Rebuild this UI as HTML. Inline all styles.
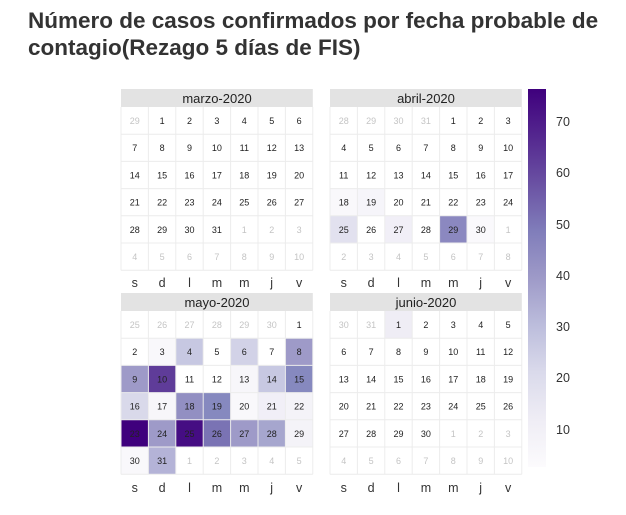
<!DOCTYPE html>
<html><head><meta charset="utf-8"><style>
body{margin:0;background:#fff;width:626px;height:515px;overflow:hidden}
svg{display:block}
.t{font-family:"Liberation Sans",sans-serif}
.c text{font-size:9px;text-anchor:middle;fill:#222}
.c text.o{fill:#c4c4c4}
.h{font-size:13px;text-anchor:middle;fill:#222}
.d text{font-size:12.5px;text-anchor:middle;fill:#333}
.g line{stroke:#ececec;stroke-width:1}
</style></head><body>
<svg width="626" height="515" class="t" xmlns="http://www.w3.org/2000/svg">
<defs>
<linearGradient id="cb" x1="0" y1="1" x2="0" y2="0">
<stop offset="0" stop-color="#fcfbfd"/><stop offset="0.125" stop-color="#efedf5"/><stop offset="0.25" stop-color="#dadaeb"/><stop offset="0.375" stop-color="#bcbddc"/><stop offset="0.5" stop-color="#9e9ac8"/><stop offset="0.625" stop-color="#807dba"/><stop offset="0.75" stop-color="#6a51a3"/><stop offset="0.875" stop-color="#54278f"/><stop offset="1" stop-color="#3f007d"/>
</linearGradient>
<g id="grid" class="g">
<line x1="0" y1="0" x2="0" y2="163.2"/><line x1="27.4" y1="0" x2="27.4" y2="163.2"/><line x1="54.8" y1="0" x2="54.8" y2="163.2"/><line x1="82.2" y1="0" x2="82.2" y2="163.2"/><line x1="109.6" y1="0" x2="109.6" y2="163.2"/><line x1="137" y1="0" x2="137" y2="163.2"/><line x1="164.4" y1="0" x2="164.4" y2="163.2"/><line x1="191.8" y1="0" x2="191.8" y2="163.2"/>
<line x1="0" y1="27.2" x2="191.8" y2="27.2"/><line x1="0" y1="54.4" x2="191.8" y2="54.4"/><line x1="0" y1="81.6" x2="191.8" y2="81.6"/><line x1="0" y1="108.8" x2="191.8" y2="108.8"/><line x1="0" y1="136" x2="191.8" y2="136"/><line x1="0" y1="163.2" x2="191.8" y2="163.2"/>
</g>
<g id="days" class="d"><text x="13.7" y="0">s</text><text x="41.1" y="0">d</text><text x="68.5" y="0">l</text><text x="95.9" y="0">m</text><text x="123.3" y="0">m</text><text x="150.7" y="0">j</text><text x="178.1" y="0">v</text></g>
</defs>

<text x="28" y="28" style="font-size:22.5px;font-weight:bold;fill:#333">Número de casos confirmados por fecha probable de</text>
<text x="28" y="55" style="font-size:22.5px;font-weight:bold;fill:#333">contagio(Rezago 5 días de FIS)</text>

<!-- marzo -->
<g transform="translate(121,89)">
<rect x="0" y="0" width="191.8" height="18" fill="#e3e3e3"/>
<text class="h" x="96" y="14">marzo-2020</text>
<g transform="translate(0,18)" class="c">
<use href="#grid"/>
<text class="o" x="13.7" y="17">29</text><text x="41.1" y="17">1</text><text x="68.5" y="17">2</text><text x="95.9" y="17">3</text><text x="123.3" y="17">4</text><text x="150.7" y="17">5</text><text x="178.1" y="17">6</text>
<text x="13.7" y="44.2">7</text><text x="41.1" y="44.2">8</text><text x="68.5" y="44.2">9</text><text x="95.9" y="44.2">10</text><text x="123.3" y="44.2">11</text><text x="150.7" y="44.2">12</text><text x="178.1" y="44.2">13</text>
<text x="13.7" y="71.4">14</text><text x="41.1" y="71.4">15</text><text x="68.5" y="71.4">16</text><text x="95.9" y="71.4">17</text><text x="123.3" y="71.4">18</text><text x="150.7" y="71.4">19</text><text x="178.1" y="71.4">20</text>
<text x="13.7" y="98.6">21</text><text x="41.1" y="98.6">22</text><text x="68.5" y="98.6">23</text><text x="95.9" y="98.6">24</text><text x="123.3" y="98.6">25</text><text x="150.7" y="98.6">26</text><text x="178.1" y="98.6">27</text>
<text x="13.7" y="125.8">28</text><text x="41.1" y="125.8">29</text><text x="68.5" y="125.8">30</text><text x="95.9" y="125.8">31</text><text class="o" x="123.3" y="125.8">1</text><text class="o" x="150.7" y="125.8">2</text><text class="o" x="178.1" y="125.8">3</text>
<text class="o" x="13.7" y="153">4</text><text class="o" x="41.1" y="153">5</text><text class="o" x="68.5" y="153">6</text><text class="o" x="95.9" y="153">7</text><text class="o" x="123.3" y="153">8</text><text class="o" x="150.7" y="153">9</text><text class="o" x="178.1" y="153">10</text>
</g>
<use href="#days" y="198"/>
</g>

<!-- abril -->
<g transform="translate(330,89)">
<rect x="0" y="0" width="191.8" height="18" fill="#e3e3e3"/>
<text class="h" x="96" y="14">abril-2020</text>
<g transform="translate(0,18)" class="c">
<rect x="0" y="81.6" width="27.4" height="27.2" fill="#f9f8fb"/>
<rect x="27.4" y="81.6" width="27.4" height="27.2" fill="#f6f5fa"/>
<rect x="0" y="108.8" width="27.4" height="27.2" fill="#e2e1ef"/>
<rect x="54.8" y="108.8" width="27.4" height="27.2" fill="#f1eff7"/>
<rect x="109.6" y="108.8" width="27.4" height="27.2" fill="#8b88c0"/>
<rect x="137" y="108.8" width="27.4" height="27.2" fill="#faf9fc"/>
<use href="#grid"/>
<text class="o" x="13.7" y="17">28</text><text class="o" x="41.1" y="17">29</text><text class="o" x="68.5" y="17">30</text><text class="o" x="95.9" y="17">31</text><text x="123.3" y="17">1</text><text x="150.7" y="17">2</text><text x="178.1" y="17">3</text>
<text x="13.7" y="44.2">4</text><text x="41.1" y="44.2">5</text><text x="68.5" y="44.2">6</text><text x="95.9" y="44.2">7</text><text x="123.3" y="44.2">8</text><text x="150.7" y="44.2">9</text><text x="178.1" y="44.2">10</text>
<text x="13.7" y="71.4">11</text><text x="41.1" y="71.4">12</text><text x="68.5" y="71.4">13</text><text x="95.9" y="71.4">14</text><text x="123.3" y="71.4">15</text><text x="150.7" y="71.4">16</text><text x="178.1" y="71.4">17</text>
<text x="13.7" y="98.6">18</text><text x="41.1" y="98.6">19</text><text x="68.5" y="98.6">20</text><text x="95.9" y="98.6">21</text><text x="123.3" y="98.6">22</text><text x="150.7" y="98.6">23</text><text x="178.1" y="98.6">24</text>
<text x="13.7" y="125.8">25</text><text x="41.1" y="125.8">26</text><text x="68.5" y="125.8">27</text><text x="95.9" y="125.8">28</text><text x="123.3" y="125.8">29</text><text x="150.7" y="125.8">30</text><text class="o" x="178.1" y="125.8">1</text>
<text class="o" x="13.7" y="153">2</text><text class="o" x="41.1" y="153">3</text><text class="o" x="68.5" y="153">4</text><text class="o" x="95.9" y="153">5</text><text class="o" x="123.3" y="153">6</text><text class="o" x="150.7" y="153">7</text><text class="o" x="178.1" y="153">8</text>
</g>
<use href="#days" y="198"/>
</g>

<!-- mayo -->
<g transform="translate(121,293)">
<rect x="0" y="0" width="191.8" height="18" fill="#e3e3e3"/>
<text class="h" x="96" y="14">mayo-2020</text>
<g transform="translate(0,18)" class="c">
<rect x="27.4" y="27.2" width="27.4" height="27.2" fill="#f9f8fb"/>
<rect x="54.8" y="27.2" width="27.4" height="27.2" fill="#c7c8e2"/>
<rect x="109.6" y="27.2" width="27.4" height="27.2" fill="#d2d2e7"/>
<rect x="164.4" y="27.2" width="27.4" height="27.2" fill="#9e9ac8"/>
<rect x="0" y="54.4" width="27.4" height="27.2" fill="#9e9ac8"/>
<rect x="27.4" y="54.4" width="27.4" height="27.2" fill="#5f3c99"/>
<rect x="109.6" y="54.4" width="27.4" height="27.2" fill="#f7f6fa"/>
<rect x="137" y="54.4" width="27.4" height="27.2" fill="#c7c8e2"/>
<rect x="164.4" y="54.4" width="27.4" height="27.2" fill="#8689bf"/>
<rect x="0" y="81.6" width="27.4" height="27.2" fill="#d9d9ea"/>
<rect x="27.4" y="81.6" width="27.4" height="27.2" fill="#f7f6fa"/>
<rect x="54.8" y="81.6" width="27.4" height="27.2" fill="#928fc2"/>
<rect x="82.2" y="81.6" width="27.4" height="27.2" fill="#8689bf"/>
<rect x="109.6" y="81.6" width="27.4" height="27.2" fill="#f9f8fb"/>
<rect x="137" y="81.6" width="27.4" height="27.2" fill="#f1eff7"/>
<rect x="164.4" y="81.6" width="27.4" height="27.2" fill="#f4f3f8"/>
<rect x="0" y="108.8" width="27.4" height="27.2" fill="#3f007d"/>
<rect x="27.4" y="108.8" width="27.4" height="27.2" fill="#9e9ac8"/>
<rect x="54.8" y="108.8" width="27.4" height="27.2" fill="#450d83"/>
<rect x="82.2" y="108.8" width="27.4" height="27.2" fill="#7a73b4"/>
<rect x="109.6" y="108.8" width="27.4" height="27.2" fill="#9e9ac8"/>
<rect x="137" y="108.8" width="27.4" height="27.2" fill="#a6a6ce"/>
<rect x="164.4" y="108.8" width="27.4" height="27.2" fill="#f4f3f8"/>
<rect x="0" y="136" width="27.4" height="27.2" fill="#f9f8fb"/>
<rect x="27.4" y="136" width="27.4" height="27.2" fill="#b4b3d7"/>
<use href="#grid"/>
<text class="o" x="13.7" y="17">25</text><text class="o" x="41.1" y="17">26</text><text class="o" x="68.5" y="17">27</text><text class="o" x="95.9" y="17">28</text><text class="o" x="123.3" y="17">29</text><text class="o" x="150.7" y="17">30</text><text x="178.1" y="17">1</text>
<text x="13.7" y="44.2">2</text><text x="41.1" y="44.2">3</text><text x="68.5" y="44.2">4</text><text x="95.9" y="44.2">5</text><text x="123.3" y="44.2">6</text><text x="150.7" y="44.2">7</text><text x="178.1" y="44.2">8</text>
<text x="13.7" y="71.4">9</text><text x="41.1" y="71.4">10</text><text x="68.5" y="71.4">11</text><text x="95.9" y="71.4">12</text><text x="123.3" y="71.4">13</text><text x="150.7" y="71.4">14</text><text x="178.1" y="71.4">15</text>
<text x="13.7" y="98.6">16</text><text x="41.1" y="98.6">17</text><text x="68.5" y="98.6">18</text><text x="95.9" y="98.6">19</text><text x="123.3" y="98.6">20</text><text x="150.7" y="98.6">21</text><text x="178.1" y="98.6">22</text>
<text x="13.7" y="125.8">23</text><text x="41.1" y="125.8">24</text><text x="68.5" y="125.8">25</text><text x="95.9" y="125.8">26</text><text x="123.3" y="125.8">27</text><text x="150.7" y="125.8">28</text><text x="178.1" y="125.8">29</text>
<text x="13.7" y="153">30</text><text x="41.1" y="153">31</text><text class="o" x="68.5" y="153">1</text><text class="o" x="95.9" y="153">2</text><text class="o" x="123.3" y="153">3</text><text class="o" x="150.7" y="153">4</text><text class="o" x="178.1" y="153">5</text>
</g>
<use href="#days" y="199"/>
</g>

<!-- junio -->
<g transform="translate(330,293)">
<rect x="0" y="0" width="191.8" height="18" fill="#e3e3e3"/>
<text class="h" x="96" y="14">junio-2020</text>
<g transform="translate(0,18)" class="c">
<rect x="54.8" y="0" width="27.4" height="27.2" fill="#efedf5"/>
<use href="#grid"/>
<text class="o" x="13.7" y="17">30</text><text class="o" x="41.1" y="17">31</text><text x="68.5" y="17">1</text><text x="95.9" y="17">2</text><text x="123.3" y="17">3</text><text x="150.7" y="17">4</text><text x="178.1" y="17">5</text>
<text x="13.7" y="44.2">6</text><text x="41.1" y="44.2">7</text><text x="68.5" y="44.2">8</text><text x="95.9" y="44.2">9</text><text x="123.3" y="44.2">10</text><text x="150.7" y="44.2">11</text><text x="178.1" y="44.2">12</text>
<text x="13.7" y="71.4">13</text><text x="41.1" y="71.4">14</text><text x="68.5" y="71.4">15</text><text x="95.9" y="71.4">16</text><text x="123.3" y="71.4">17</text><text x="150.7" y="71.4">18</text><text x="178.1" y="71.4">19</text>
<text x="13.7" y="98.6">20</text><text x="41.1" y="98.6">21</text><text x="68.5" y="98.6">22</text><text x="95.9" y="98.6">23</text><text x="123.3" y="98.6">24</text><text x="150.7" y="98.6">25</text><text x="178.1" y="98.6">26</text>
<text x="13.7" y="125.8">27</text><text x="41.1" y="125.8">28</text><text x="68.5" y="125.8">29</text><text x="95.9" y="125.8">30</text><text class="o" x="123.3" y="125.8">1</text><text class="o" x="150.7" y="125.8">2</text><text class="o" x="178.1" y="125.8">3</text>
<text class="o" x="13.7" y="153">4</text><text class="o" x="41.1" y="153">5</text><text class="o" x="68.5" y="153">6</text><text class="o" x="95.9" y="153">7</text><text class="o" x="123.3" y="153">8</text><text class="o" x="150.7" y="153">9</text><text class="o" x="178.1" y="153">10</text>
</g>
<use href="#days" y="199"/>
</g>

<!-- colorbar -->
<rect x="528" y="89" width="18" height="378" fill="url(#cb)"/>
<g style="font-size:12.5px;fill:#333">
<text x="556" y="126">70</text><text x="556" y="177">60</text><text x="556" y="229">50</text><text x="556" y="280">40</text><text x="556" y="331">30</text><text x="556" y="382">20</text><text x="556" y="434">10</text>
</g>
</svg>
</body></html>
